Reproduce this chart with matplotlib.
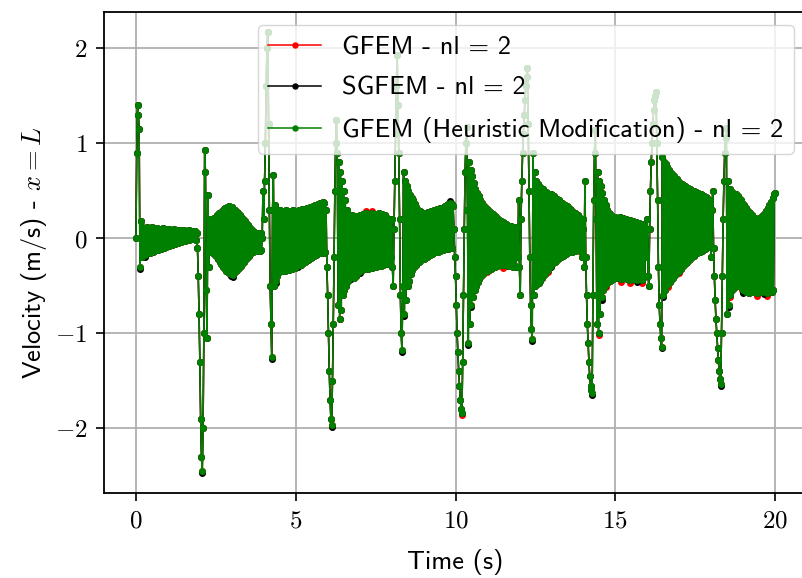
import numpy as np
import matplotlib
matplotlib.use('Agg')
import matplotlib.pyplot as plt
from matplotlib.ticker import FuncFormatter

# velocity at x = L, one row per second (dt = 0.025 s)
gfem_heuristic = [
    0.00, 0.90, 1.40, 1.30, 1.15, -0.30, 0.18, -0.20, 0.12, -0.17, 0.10, -0.18, 0.05, -0.15, 0.12, -0.12, 0.09, -0.16, 0.11, -0.08, 0.12, -0.14, 0.06, -0.13, 0.10, -0.10, 0.11, -0.12, 0.08, -0.09, 0.10, -0.11, 0.09, -0.07, 0.11, -0.10, 0.07, -0.09, 0.10, -0.06,
    0.09, -0.08, 0.10, -0.06, 0.08, -0.07, 0.09, -0.05, 0.10, -0.06, 0.08, -0.04, 0.09, -0.05, 0.07, -0.03, 0.09, -0.04, 0.08, -0.02, 0.09, -0.03, 0.07, -0.02, 0.08, -0.01, 0.09, -0.02, 0.07, 0.00, 0.08, -0.01, 0.06, 0.00, 0.08, -0.02, 0.05, -0.10, -0.40, -0.80,
    -1.30, -1.90, -2.30, -2.45, -2.00, -1.00, 0.93, 0.70, -0.55, -1.05, 0.45, -0.30, 0.20, -0.15, 0.17, -0.14, 0.19, -0.16, 0.21, -0.18, 0.22, -0.20, 0.24, -0.22, 0.26, -0.25, 0.27, -0.27, 0.29, -0.30, 0.31, -0.32, 0.32, -0.34, 0.33, -0.36, 0.34, -0.37, 0.33, -0.38,
    0.33, -0.39, 0.31, -0.37, 0.30, -0.35, 0.28, -0.33, 0.26, -0.31, 0.24, -0.29, 0.22, -0.27, 0.20, -0.25, 0.18, -0.23, 0.16, -0.21, 0.14, -0.19, 0.12, -0.17, 0.10, -0.15, 0.08, -0.14, 0.07, -0.13, 0.06, -0.13, 0.05, -0.12, 0.06, -0.13, 0.05, -0.12, 0.00, 0.50,
    0.20, 0.60, 1.00, 1.60, 2.00, 2.17, 1.20, 0.30, -0.50, -0.90, -1.25, 0.30, 0.66, -0.50, 0.35, -0.45, 0.30, -0.40, 0.28, -0.36, 0.30, -0.34, 0.27, -0.35, 0.29, -0.33, 0.28, -0.34, 0.30, -0.32, 0.26, -0.33, 0.29, -0.31, 0.27, -0.32, 0.30, -0.30, 0.28, -0.31,
    0.29, -0.29, 0.27, -0.28, 0.30, -0.27, 0.28, -0.28, 0.31, -0.26, 0.29, -0.25, 0.31, -0.24, 0.32, -0.23, 0.30, -0.22, 0.33, -0.21, 0.32, -0.20, 0.34, -0.19, 0.35, -0.18, 0.34, -0.17, 0.36, -0.16, 0.37, -0.16, 0.36, -0.15, 0.38, -0.16, 0.37, -0.15, 0.30, -0.30,
    -0.60, -1.00, -1.40, -1.70, -1.90, -1.97, -1.50, -0.90, -0.20, 0.50, 1.00, 1.24, 0.90, -0.70, 0.80, -0.85, 0.70, -0.75, 0.60, -0.60, 0.50, -0.55, 0.40, -0.50, 0.30, -0.45, 0.25, -0.42, 0.22, -0.40, 0.24, -0.38, 0.22, -0.42, 0.20, -0.40, 0.23, -0.37, 0.21, -0.36,
    0.24, -0.35, 0.22, -0.33, 0.25, -0.32, 0.23, -0.31, 0.26, -0.30, 0.24, -0.32, 0.25, -0.29, 0.23, -0.31, 0.26, -0.30, 0.24, -0.28, 0.25, -0.30, 0.23, -0.29, 0.26, -0.27, 0.24, -0.29, 0.25, -0.28, 0.22, -0.27, 0.24, -0.26, 0.21, -0.27, 0.20, -0.25, 0.18, -0.20,
    0.20, -0.30, -0.50, 0.10, 0.60, 1.10, 1.60, 1.93, 1.40, 0.90, 0.20, -0.60, -1.00, -1.18, -0.50, 0.70, -0.80, 0.60, -0.65, 0.55, -0.50, 0.50, -0.45, 0.45, -0.38, 0.42, -0.33, 0.40, -0.30, 0.36, -0.28, 0.33, -0.26, 0.30, -0.25, 0.29, -0.24, 0.28, -0.22, 0.27,
    -0.22, 0.27, -0.21, 0.26, -0.20, 0.28, -0.19, 0.27, -0.18, 0.29, -0.17, 0.28, -0.16, 0.30, -0.15, 0.29, -0.14, 0.31, -0.14, 0.30, -0.13, 0.32, -0.12, 0.31, -0.12, 0.33, -0.11, 0.34, -0.10, 0.35, -0.11, 0.36, -0.10, 0.37, -0.09, 0.36, -0.10, 0.34, 0.10, -0.20,
    -0.40, -0.70, -1.00, -1.20, -1.40, -1.55, -1.70, -1.80, -1.84, -1.30, -0.60, 0.10, 0.70, 1.00, 1.17, 0.30, -1.10, 0.80, -0.90, 0.72, -0.70, 0.65, -0.62, 0.58, -0.55, 0.52, -0.50, 0.48, -0.46, 0.44, -0.43, 0.40, -0.40, 0.37, -0.38, 0.35, -0.36, 0.33, -0.35, 0.31,
    -0.34, 0.30, -0.33, 0.28, -0.32, 0.26, -0.31, 0.25, -0.30, 0.23, -0.30, 0.22, -0.29, 0.20, -0.28, 0.19, -0.28, 0.18, -0.27, 0.17, -0.28, 0.16, -0.27, 0.15, -0.28, 0.14, -0.29, 0.13, -0.28, 0.13, -0.29, 0.12, -0.30, 0.12, -0.29, 0.11, -0.30, 0.12, -0.20, 0.40,
    -0.30, -0.60, 0.20, 0.60, 0.90, 1.10, 1.30, 1.45, 1.60, 1.70, 1.79, 1.20, 0.50, -0.20, -0.70, -0.95, -1.06, 0.90, -0.60, 0.70, -0.50, 0.60, -0.48, 0.57, -0.47, 0.55, -0.45, 0.53, -0.42, 0.52, -0.40, 0.50, -0.38, 0.49, -0.35, 0.48, -0.33, 0.47, -0.30, 0.46,
    -0.28, 0.45, -0.26, 0.44, -0.25, 0.42, -0.24, 0.41, -0.22, 0.40, -0.21, 0.38, -0.20, 0.37, -0.19, 0.36, -0.18, 0.35, -0.17, 0.34, -0.16, 0.33, -0.15, 0.31, -0.14, 0.30, -0.14, 0.28, -0.13, 0.27, -0.13, 0.25, -0.12, 0.24, -0.12, 0.22, -0.13, 0.20, -0.20, 0.10,
    0.20, -0.30, 0.60, -0.20, -0.60, -0.90, -1.10, -1.30, -1.45, -1.55, -1.60, -1.63, -0.60, 0.40, 0.90, 1.14, 0.20, -0.90, 0.70, -1.00, 0.60, -0.80, 0.55, -0.62, 0.48, -0.55, 0.40, -0.50, 0.35, -0.48, 0.30, -0.46, 0.27, -0.45, 0.25, -0.44, 0.23, -0.43, 0.22, -0.42,
    0.22, -0.41, 0.21, -0.42, 0.20, -0.40, 0.22, -0.43, 0.19, -0.41, 0.21, -0.42, 0.18, -0.40, 0.20, -0.43, 0.17, -0.41, 0.19, -0.44, 0.16, -0.42, 0.18, -0.43, 0.15, -0.41, 0.17, -0.44, 0.14, -0.42, 0.16, -0.43, 0.13, -0.44, 0.15, -0.42, 0.12, -0.40, 0.10, -0.20,
    0.20, -0.40, -0.50, 0.10, 0.50, 0.80, 1.00, 1.20, 1.35, 1.45, 1.50, 1.54, 1.00, 0.40, -0.30, -0.70, -0.90, -1.05, -1.14, 0.85, -0.60, 0.80, -0.55, 0.78, -0.50, 0.75, -0.48, 0.72, -0.46, 0.70, -0.44, 0.68, -0.42, 0.65, -0.40, 0.63, -0.38, 0.62, -0.36, 0.60,
    -0.34, 0.58, -0.32, 0.57, -0.30, 0.56, -0.28, 0.55, -0.26, 0.54, -0.25, 0.53, -0.23, 0.52, -0.22, 0.51, -0.20, 0.50, -0.19, 0.50, -0.17, 0.49, -0.16, 0.48, -0.15, 0.47, -0.14, 0.46, -0.13, 0.45, -0.12, 0.44, -0.11, 0.43, -0.10, 0.42, -0.09, 0.40, -0.08, 0.36,
    -0.20, 0.30, 0.50, -0.10, -0.40, -0.65, -0.85, -1.00, -1.15, -1.28, -1.40, -1.48, -1.53, -1.00, -0.40, 0.20, 0.60, 0.90, 1.05, 1.16, -0.80, 0.60, -0.70, 0.52, -0.60, 0.50, -0.55, 0.48, -0.52, 0.47, -0.50, 0.46, -0.50, 0.44, -0.48, 0.42, -0.50, 0.40, -0.52, 0.37,
    -0.55, 0.35, -0.56, 0.32, -0.57, 0.30, -0.55, 0.28, -0.58, 0.26, -0.56, 0.24, -0.55, 0.22, -0.57, 0.21, -0.55, 0.20, -0.58, 0.20, -0.56, 0.21, -0.55, 0.22, -0.57, 0.24, -0.56, 0.26, -0.55, 0.29, -0.58, 0.32, -0.56, 0.35, -0.55, 0.38, -0.57, 0.42, -0.54, 0.46,
    0.48]

gfem = [
    0.00, 0.90, 1.40, 1.30, 1.15, -0.30, 0.18, -0.20, 0.12, -0.17, 0.10, -0.18, 0.05, -0.15, 0.12, -0.12, 0.09, -0.16, 0.11, -0.08, 0.12, -0.14, 0.06, -0.13, 0.10, -0.10, 0.11, -0.12, 0.08, -0.09, 0.10, -0.11, 0.09, -0.07, 0.11, -0.10, 0.07, -0.09, 0.10, -0.06,
    0.09, -0.08, 0.10, -0.06, 0.08, -0.07, 0.09, -0.05, 0.10, -0.06, 0.08, -0.04, 0.09, -0.05, 0.07, -0.03, 0.09, -0.04, 0.08, -0.02, 0.09, -0.03, 0.07, -0.02, 0.08, -0.01, 0.09, -0.02, 0.07, 0.00, 0.08, -0.01, 0.06, 0.00, 0.08, -0.02, 0.05, -0.10, -0.40, -0.80,
    -1.30, -1.90, -2.30, -2.45, -2.00, -1.00, 0.93, 0.70, -0.55, -1.05, 0.45, -0.30, 0.20, -0.15, 0.17, -0.14, 0.19, -0.16, 0.21, -0.18, 0.22, -0.20, 0.24, -0.22, 0.26, -0.25, 0.27, -0.27, 0.29, -0.30, 0.31, -0.32, 0.32, -0.34, 0.33, -0.36, 0.34, -0.37, 0.33, -0.38,
    0.33, -0.39, 0.31, -0.37, 0.30, -0.35, 0.28, -0.33, 0.26, -0.31, 0.24, -0.29, 0.22, -0.27, 0.20, -0.25, 0.18, -0.23, 0.16, -0.21, 0.14, -0.19, 0.12, -0.17, 0.10, -0.15, 0.08, -0.14, 0.07, -0.13, 0.06, -0.13, 0.05, -0.12, 0.06, -0.13, 0.05, -0.12, 0.00, 0.50,
    0.20, 0.60, 1.00, 1.60, 2.00, 2.17, 1.20, 0.30, -0.50, -0.90, -1.25, 0.30, 0.66, -0.50, 0.35, -0.45, 0.30, -0.40, 0.28, -0.36, 0.30, -0.34, 0.27, -0.35, 0.29, -0.33, 0.28, -0.34, 0.30, -0.32, 0.26, -0.33, 0.29, -0.31, 0.27, -0.32, 0.30, -0.30, 0.28, -0.31,
    0.29, -0.29, 0.27, -0.28, 0.30, -0.27, 0.28, -0.28, 0.31, -0.26, 0.29, -0.25, 0.31, -0.24, 0.32, -0.23, 0.30, -0.22, 0.33, -0.21, 0.32, -0.20, 0.34, -0.19, 0.35, -0.18, 0.34, -0.17, 0.36, -0.16, 0.37, -0.16, 0.36, -0.15, 0.38, -0.16, 0.37, -0.15, 0.30, -0.30,
    -0.60, -1.00, -1.40, -1.70, -1.90, -1.97, -1.50, -0.90, -0.20, 0.50, 1.00, 1.24, 0.90, -0.70, 0.80, -0.85, 0.70, -0.75, 0.60, -0.60, 0.50, -0.55, 0.40, -0.50, 0.30, -0.45, 0.25, -0.42, 0.22, -0.40, 0.24, -0.38, 0.22, -0.42, 0.20, -0.40, 0.23, -0.37, 0.21, -0.36,
    0.24, -0.35, 0.22, -0.33, 0.25, -0.32, 0.23, -0.31, 0.29, -0.30, 0.24, -0.32, 0.25, -0.29, 0.23, -0.31, 0.29, -0.30, 0.24, -0.28, 0.25, -0.30, 0.23, -0.29, 0.26, -0.27, 0.24, -0.29, 0.25, -0.28, 0.22, -0.27, 0.24, -0.26, 0.21, -0.27, 0.20, -0.25, 0.18, -0.20,
    0.20, -0.30, -0.50, 0.10, 0.60, 1.10, 1.60, 1.93, 1.40, 0.90, 0.20, -0.60, -1.00, -1.18, -0.50, 0.70, -0.80, 0.60, -0.65, 0.55, -0.50, 0.50, -0.45, 0.45, -0.38, 0.42, -0.33, 0.40, -0.30, 0.36, -0.28, 0.33, -0.26, 0.30, -0.25, 0.29, -0.24, 0.28, -0.22, 0.27,
    -0.22, 0.27, -0.21, 0.26, -0.20, 0.28, -0.19, 0.27, -0.18, 0.29, -0.17, 0.28, -0.16, 0.30, -0.15, 0.29, -0.14, 0.31, -0.14, 0.30, -0.13, 0.32, -0.12, 0.31, -0.12, 0.33, -0.11, 0.34, -0.10, 0.35, -0.11, 0.36, -0.10, 0.37, -0.09, 0.36, -0.10, 0.34, 0.10, -0.20,
    -0.40, -0.70, -1.00, -1.20, -1.40, -1.55, -1.70, -1.80, -1.86, -1.30, -0.60, 0.10, 0.70, 1.00, 1.17, 0.30, -1.10, 0.80, -0.90, 0.72, -0.70, 0.65, -0.62, 0.58, -0.55, 0.52, -0.50, 0.48, -0.46, 0.44, -0.43, 0.40, -0.40, 0.37, -0.38, 0.35, -0.36, 0.33, -0.35, 0.31,
    -0.36, 0.30, -0.33, 0.28, -0.32, 0.26, -0.31, 0.25, -0.30, 0.23, -0.30, 0.22, -0.29, 0.20, -0.28, 0.19, -0.28, 0.18, -0.27, 0.17, -0.31, 0.16, -0.27, 0.15, -0.28, 0.14, -0.29, 0.13, -0.28, 0.13, -0.29, 0.12, -0.30, 0.12, -0.29, 0.11, -0.30, 0.12, -0.20, 0.40,
    -0.30, -0.60, 0.20, 0.60, 0.90, 1.10, 1.30, 1.45, 1.60, 1.70, 1.79, 1.20, 0.50, -0.20, -0.70, -0.95, -1.06, 0.90, -0.60, 0.70, -0.50, 0.60, -0.48, 0.57, -0.47, 0.55, -0.45, 0.53, -0.42, 0.52, -0.40, 0.50, -0.38, 0.49, -0.35, 0.48, -0.36, 0.47, -0.30, 0.46,
    -0.28, 0.45, -0.26, 0.44, -0.25, 0.42, -0.24, 0.41, -0.22, 0.40, -0.21, 0.38, -0.20, 0.37, -0.19, 0.36, -0.18, 0.35, -0.17, 0.34, -0.16, 0.33, -0.15, 0.31, -0.14, 0.30, -0.14, 0.28, -0.13, 0.27, -0.13, 0.25, -0.12, 0.24, -0.12, 0.22, -0.13, 0.20, -0.20, 0.10,
    0.20, -0.30, 0.60, -0.20, -0.60, -0.90, -1.10, -1.30, -1.45, -1.55, -1.60, -1.63, -0.60, 0.40, 0.90, 1.14, 0.20, -0.90, 0.70, -1.02, 0.60, -0.80, 0.55, -0.62, 0.48, -0.55, 0.40, -0.50, 0.35, -0.51, 0.30, -0.46, 0.27, -0.45, 0.25, -0.44, 0.23, -0.43, 0.22, -0.42,
    0.22, -0.41, 0.21, -0.42, 0.20, -0.40, 0.22, -0.46, 0.19, -0.41, 0.21, -0.42, 0.18, -0.40, 0.20, -0.43, 0.17, -0.41, 0.19, -0.47, 0.16, -0.42, 0.18, -0.43, 0.15, -0.41, 0.17, -0.44, 0.14, -0.42, 0.16, -0.43, 0.13, -0.47, 0.15, -0.42, 0.12, -0.40, 0.10, -0.20,
    0.20, -0.40, -0.50, 0.10, 0.50, 0.80, 1.00, 1.20, 1.35, 1.45, 1.50, 1.54, 1.00, 0.40, -0.30, -0.70, -0.90, -1.05, -1.14, 0.85, -0.60, 0.80, -0.55, 0.78, -0.50, 0.75, -0.51, 0.72, -0.46, 0.70, -0.44, 0.68, -0.42, 0.65, -0.40, 0.63, -0.38, 0.62, -0.36, 0.60,
    -0.37, 0.58, -0.32, 0.57, -0.30, 0.56, -0.28, 0.55, -0.26, 0.54, -0.25, 0.53, -0.23, 0.52, -0.22, 0.51, -0.20, 0.50, -0.19, 0.50, -0.17, 0.49, -0.16, 0.48, -0.15, 0.47, -0.14, 0.46, -0.13, 0.45, -0.12, 0.44, -0.11, 0.43, -0.10, 0.42, -0.09, 0.40, -0.08, 0.36,
    -0.20, 0.30, 0.50, -0.10, -0.40, -0.65, -0.85, -1.00, -1.15, -1.28, -1.40, -1.48, -1.53, -1.00, -0.40, 0.20, 0.60, 0.90, 1.05, 1.16, -0.80, 0.60, -0.70, 0.52, -0.62, 0.50, -0.55, 0.48, -0.52, 0.47, -0.50, 0.46, -0.50, 0.44, -0.48, 0.42, -0.50, 0.40, -0.55, 0.37,
    -0.55, 0.35, -0.56, 0.32, -0.57, 0.30, -0.55, 0.28, -0.58, 0.26, -0.56, 0.24, -0.55, 0.22, -0.57, 0.21, -0.55, 0.20, -0.61, 0.20, -0.56, 0.21, -0.55, 0.22, -0.57, 0.24, -0.56, 0.26, -0.55, 0.29, -0.61, 0.32, -0.56, 0.35, -0.55, 0.38, -0.57, 0.42, -0.54, 0.46,
    0.48]

sgfem = [
    0.00, 0.90, 1.40, 1.30, 1.15, -0.32, 0.18, -0.20, 0.12, -0.17, 0.10, -0.20, 0.05, -0.15, 0.12, -0.12, 0.09, -0.16, 0.11, -0.08, 0.12, -0.14, 0.06, -0.13, 0.10, -0.10, 0.11, -0.12, 0.08, -0.09, 0.10, -0.11, 0.09, -0.07, 0.11, -0.10, 0.07, -0.09, 0.10, -0.06,
    0.09, -0.08, 0.10, -0.06, 0.08, -0.07, 0.09, -0.05, 0.10, -0.06, 0.08, -0.04, 0.09, -0.05, 0.07, -0.03, 0.09, -0.04, 0.08, -0.02, 0.09, -0.03, 0.07, -0.02, 0.08, -0.01, 0.09, -0.02, 0.07, 0.00, 0.08, -0.01, 0.06, 0.00, 0.08, -0.02, 0.05, -0.10, -0.40, -0.80,
    -1.30, -1.90, -2.30, -2.47, -2.00, -1.00, 0.93, 0.70, -0.55, -1.05, 0.45, -0.30, 0.20, -0.15, 0.17, -0.14, 0.19, -0.16, 0.21, -0.18, 0.22, -0.20, 0.24, -0.22, 0.26, -0.25, 0.27, -0.27, 0.29, -0.30, 0.31, -0.32, 0.32, -0.34, 0.33, -0.36, 0.34, -0.37, 0.33, -0.40,
    0.33, -0.41, 0.31, -0.37, 0.30, -0.35, 0.28, -0.33, 0.26, -0.31, 0.24, -0.29, 0.22, -0.27, 0.20, -0.25, 0.18, -0.23, 0.16, -0.21, 0.14, -0.19, 0.12, -0.17, 0.10, -0.15, 0.08, -0.14, 0.07, -0.13, 0.06, -0.13, 0.05, -0.12, 0.06, -0.13, 0.05, -0.12, 0.00, 0.50,
    0.20, 0.60, 1.00, 1.60, 2.00, 2.17, 1.20, 0.30, -0.50, -0.90, -1.27, 0.30, 0.66, -0.50, 0.35, -0.47, 0.30, -0.40, 0.28, -0.36, 0.30, -0.34, 0.27, -0.35, 0.29, -0.33, 0.28, -0.34, 0.30, -0.32, 0.26, -0.33, 0.29, -0.31, 0.27, -0.32, 0.30, -0.30, 0.28, -0.31,
    0.29, -0.29, 0.27, -0.30, 0.30, -0.27, 0.28, -0.28, 0.31, -0.26, 0.29, -0.25, 0.31, -0.24, 0.32, -0.23, 0.30, -0.22, 0.33, -0.21, 0.32, -0.20, 0.34, -0.19, 0.35, -0.18, 0.34, -0.17, 0.36, -0.16, 0.37, -0.16, 0.36, -0.15, 0.38, -0.16, 0.37, -0.15, 0.30, -0.30,
    -0.60, -1.00, -1.40, -1.70, -1.90, -1.99, -1.50, -0.90, -0.20, 0.50, 1.00, 1.24, 0.90, -0.70, 0.80, -0.85, 0.70, -0.75, 0.60, -0.60, 0.50, -0.55, 0.40, -0.50, 0.30, -0.45, 0.25, -0.42, 0.22, -0.43, 0.24, -0.38, 0.22, -0.42, 0.20, -0.40, 0.23, -0.37, 0.21, -0.36,
    0.24, -0.37, 0.22, -0.33, 0.25, -0.32, 0.23, -0.31, 0.26, -0.30, 0.24, -0.32, 0.25, -0.29, 0.23, -0.31, 0.26, -0.30, 0.24, -0.28, 0.25, -0.30, 0.23, -0.29, 0.26, -0.27, 0.24, -0.29, 0.25, -0.28, 0.22, -0.27, 0.24, -0.26, 0.21, -0.27, 0.20, -0.25, 0.18, -0.20,
    0.20, -0.30, -0.50, 0.10, 0.60, 1.10, 1.60, 1.93, 1.40, 0.90, 0.20, -0.60, -1.00, -1.20, -0.50, 0.70, -0.82, 0.60, -0.65, 0.55, -0.50, 0.50, -0.45, 0.45, -0.38, 0.42, -0.33, 0.40, -0.30, 0.36, -0.28, 0.33, -0.26, 0.30, -0.25, 0.29, -0.24, 0.28, -0.22, 0.27,
    -0.22, 0.27, -0.21, 0.26, -0.20, 0.28, -0.19, 0.27, -0.18, 0.29, -0.17, 0.28, -0.16, 0.30, -0.15, 0.29, -0.14, 0.31, -0.14, 0.30, -0.13, 0.32, -0.12, 0.31, -0.12, 0.33, -0.11, 0.34, -0.10, 0.35, -0.11, 0.36, -0.10, 0.39, -0.09, 0.36, -0.10, 0.34, 0.10, -0.20,
    -0.40, -0.70, -1.00, -1.20, -1.40, -1.55, -1.70, -1.80, -1.84, -1.30, -0.60, 0.10, 0.70, 1.00, 1.17, 0.30, -1.12, 0.80, -0.90, 0.72, -0.72, 0.65, -0.62, 0.58, -0.55, 0.52, -0.50, 0.48, -0.46, 0.44, -0.43, 0.40, -0.40, 0.37, -0.38, 0.35, -0.36, 0.33, -0.35, 0.31,
    -0.34, 0.30, -0.33, 0.28, -0.32, 0.26, -0.31, 0.25, -0.30, 0.23, -0.30, 0.22, -0.29, 0.20, -0.28, 0.19, -0.28, 0.18, -0.27, 0.17, -0.28, 0.16, -0.27, 0.15, -0.28, 0.14, -0.29, 0.13, -0.28, 0.13, -0.29, 0.12, -0.30, 0.12, -0.29, 0.11, -0.30, 0.12, -0.20, 0.40,
    -0.30, -0.60, 0.20, 0.60, 0.90, 1.10, 1.30, 1.45, 1.60, 1.70, 1.79, 1.20, 0.50, -0.20, -0.70, -0.95, -1.08, 0.90, -0.60, 0.70, -0.50, 0.60, -0.48, 0.57, -0.47, 0.55, -0.45, 0.53, -0.42, 0.52, -0.40, 0.50, -0.38, 0.49, -0.35, 0.48, -0.33, 0.47, -0.30, 0.46,
    -0.30, 0.45, -0.26, 0.44, -0.25, 0.42, -0.24, 0.41, -0.22, 0.40, -0.21, 0.38, -0.20, 0.37, -0.19, 0.36, -0.18, 0.35, -0.17, 0.34, -0.16, 0.33, -0.15, 0.31, -0.14, 0.30, -0.14, 0.28, -0.13, 0.27, -0.13, 0.25, -0.12, 0.24, -0.12, 0.22, -0.13, 0.20, -0.20, 0.10,
    0.20, -0.30, 0.60, -0.20, -0.60, -0.90, -1.10, -1.30, -1.45, -1.55, -1.60, -1.65, -0.60, 0.40, 0.90, 1.14, 0.20, -0.90, 0.70, -1.00, 0.60, -0.80, 0.55, -0.65, 0.48, -0.55, 0.40, -0.50, 0.35, -0.48, 0.30, -0.46, 0.27, -0.45, 0.25, -0.44, 0.23, -0.43, 0.22, -0.42,
    0.22, -0.41, 0.21, -0.42, 0.20, -0.40, 0.22, -0.43, 0.19, -0.41, 0.21, -0.42, 0.18, -0.40, 0.20, -0.43, 0.17, -0.41, 0.19, -0.44, 0.16, -0.42, 0.18, -0.43, 0.15, -0.41, 0.17, -0.46, 0.14, -0.42, 0.16, -0.43, 0.13, -0.44, 0.15, -0.42, 0.12, -0.40, 0.10, -0.20,
    0.20, -0.40, -0.50, 0.10, 0.50, 0.80, 1.00, 1.20, 1.35, 1.45, 1.50, 1.54, 1.00, 0.40, -0.30, -0.70, -0.90, -1.05, -1.16, 0.85, -0.62, 0.80, -0.55, 0.78, -0.50, 0.75, -0.48, 0.72, -0.46, 0.70, -0.44, 0.68, -0.42, 0.65, -0.40, 0.63, -0.38, 0.62, -0.36, 0.60,
    -0.34, 0.58, -0.32, 0.57, -0.30, 0.56, -0.28, 0.55, -0.26, 0.54, -0.25, 0.53, -0.23, 0.52, -0.22, 0.51, -0.20, 0.50, -0.19, 0.50, -0.17, 0.49, -0.16, 0.48, -0.15, 0.47, -0.14, 0.46, -0.13, 0.45, -0.12, 0.44, -0.11, 0.43, -0.10, 0.42, -0.09, 0.40, -0.08, 0.36,
    -0.20, 0.30, 0.50, -0.10, -0.40, -0.65, -0.85, -1.00, -1.15, -1.28, -1.40, -1.48, -1.55, -1.00, -0.40, 0.20, 0.60, 0.90, 1.05, 1.16, -0.80, 0.60, -0.72, 0.52, -0.60, 0.50, -0.55, 0.48, -0.52, 0.47, -0.50, 0.46, -0.50, 0.44, -0.48, 0.42, -0.50, 0.40, -0.52, 0.37,
    -0.58, 0.35, -0.56, 0.32, -0.57, 0.30, -0.55, 0.28, -0.58, 0.26, -0.56, 0.24, -0.55, 0.22, -0.57, 0.21, -0.55, 0.20, -0.58, 0.20, -0.56, 0.21, -0.55, 0.22, -0.57, 0.24, -0.59, 0.26, -0.55, 0.29, -0.58, 0.32, -0.56, 0.35, -0.55, 0.38, -0.57, 0.42, -0.54, 0.46,
    0.48]

labels = ['GFEM - nl = 2', 'SGFEM - nl = 2', 'GFEM (Heuristic Modification) - nl = 2']

assert len(gfem) == len(sgfem) == len(gfem_heuristic)
time = np.linspace(0, 20, len(gfem))

plt.rcParams['mathtext.fontset'] = 'cm'
plt.rcParams['font.family'] = ['cmss10', 'DejaVu Sans']
plt.rcParams['axes.unicode_minus'] = False

fig = plt.figure(figsize=(8.03, 5.78), dpi=100)
ax = fig.add_axes([0.1295, 0.1471, 0.8755, 0.8322])

ax.plot(time, gfem, color='red', lw=1.1, marker='o', ms=4, label=labels[0])
ax.plot(time, sgfem, color='black', lw=1.1, marker='o', ms=4, label=labels[1])
ax.plot(time, gfem_heuristic, color='green', lw=1.1, marker='o', ms=4, label=labels[2])

ax.set_xlim(-1, 21)
ax.set_ylim(-2.68, 2.38)
ax.set_xticks([0, 5, 10, 15, 20])
ax.set_yticks([-2, -1, 0, 1, 2])
fmt = FuncFormatter(lambda v, p: r'$%d$' % v)
ax.xaxis.set_major_formatter(fmt)
ax.yaxis.set_major_formatter(fmt)
ax.tick_params(labelsize=18, length=6, width=1.2, pad=6)
ax.grid(True, color='#b0b0b0', lw=1.3)
ax.set_axisbelow(True)
for s in ax.spines.values():
    s.set_linewidth(1.3)

ax.set_xlabel('Time (s)', fontsize=19, labelpad=12)
ax.set_ylabel('Velocity (m/s) - $x = L$', fontsize=19)
ax.legend(loc='upper right', fontsize=19, framealpha=0.8, labelspacing=0.65,
          markerscale=0.9)

fig.savefig('out.png', dpi=100)
